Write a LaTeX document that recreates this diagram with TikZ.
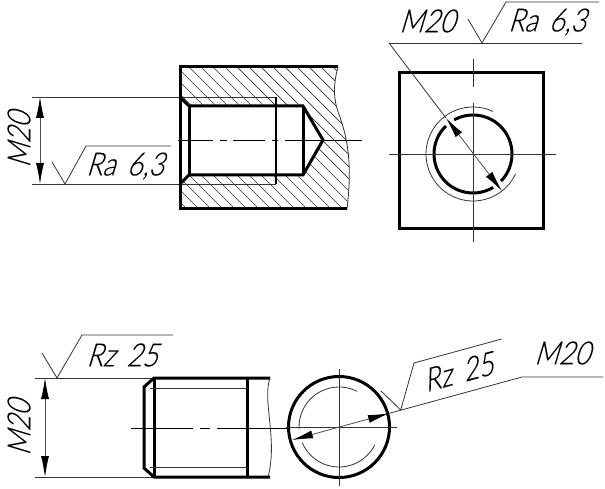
\documentclass[tikz,border=0pt]{standalone}
\usepackage{fontspec}
\setmainfont{Lato}[UprightFont=* Light,FakeSlant=0.3,FakeStretch=0.84,FakeBold=0.3,WordSpace=1.6]
\usetikzlibrary{arrows.meta}
\tikzset{
  thickline/.style={line width=3pt, line join=miter},
  midline/.style={line width=1.8pt},
  thinline/.style={line width=0.8pt, black!80},
  centerline/.style={line width=0.8pt},
  dimline/.style={line width=0.8pt, black!70, {Latex[length=21pt,width=8pt,color=black]}-{Latex[length=21pt,width=8pt,color=black]}},
  label/.style={font=\fontsize{32}{32}\selectfont, inner sep=0pt},
}
\begin{document}
\begin{tikzpicture}[x=1pt, y=-1pt]
	\useasboundingbox (0, 0) rectangle (605, 489);
	% threaded hole, section
	\begin{scope}
		\clip (180, 67) -- (338, 67) .. controls (333, 85) and (333, 100) .. (340, 117) .. controls (346, 135) and (353, 160) .. (347, 209) -- (180, 209) -- (180, 184) -- (189, 175) -- (303, 175) -- (323, 140) -- (303, 106) -- (189, 106) -- (180, 97) -- cycle;
		\foreach \hx in {-10, 2, ..., 500}
			\draw[thinline, line width=0.7pt] (\hx, 60) -- (\hx + 160, 220);
	\end{scope}
	\draw[thinline]    	(338, 67) .. controls (333, 85) and (333, 100) .. (340, 117) .. controls (346, 135) and (353, 160) .. (347, 209);
	\draw[thinline]    	(32, 97) -- (276, 97);
	\draw[thinline]    	(32, 184) -- (276, 184);
	\draw[midline]    	(276, 97) -- (276, 184);
	\draw[thickline]    	(338, 67) -- (180, 67) -- (180, 209) -- (347, 209);
	\draw[thickline]    	(180, 97) -- (189, 106) -- (303, 106) -- (323, 140) -- (303, 175) -- (189, 175) -- (180, 184);
	\draw[thickline]    	(189, 106) -- (189, 175);
	\draw[thickline]    	(303, 106) -- (303, 175);
	\draw[centerline, dash pattern=on 35pt off 7pt on 7pt off 6pt on 32pt off 7pt on 6pt off 7pt on 80pt] (178, 140) -- (362, 140);
	\draw[dimline]    	(40, 97) -- (40, 184);
	\node[label, rotate=90] (holesize) at (19, 140) {M20};
	\draw[thinline]    	(52, 162) -- (65, 184) -- (86, 146) -- (171, 146);
	\node[label] (holerough) at (125, 166) {Ra 6,3};
	% threaded hole, end view
	\coordinate (holecentre) at (473, 154);
	\draw[thickline]    	(399, 73) rectangle (543, 229);
	\draw[thickline]    	(holecentre) ++(44:39) arc[start angle=44, end angle=-119, radius=39];
	\draw[thickline]    	(holecentre) ++(-134:39) arc[start angle=-134, end angle=-301, radius=39];
	\draw[thinline]    	(holecentre) ++(-65:47) arc[start angle=-65, end angle=-335, radius=47];
	\draw[thinline]    	(389, 154) -- (556, 154);
	\draw[thinline]    	(473, 59) -- (473, 87);
	\draw[thinline]    	(473, 103) -- (473, 242);
	\draw[dimline]    	(446, 118) -- (502, 191);
	\draw[thinline]    	(389, 43) -- (446, 118);
	\draw[thinline]    	(389, 43) -- (582, 43);
	\draw[thinline]    	(468, 19) -- (482, 43) -- (506, 2) -- (599, 2);
	\node[label] (endsize) at (427, 21) {M20};
	\node[label] (endrough) at (547, 22) {Ra 6,3};
	% threaded shaft
	\draw[thinline]    	(35, 378) -- (154, 378);
	\draw[thinline]    	(35, 477) -- (154, 477);
	\draw[thickline]    	(270, 378) -- (154, 378) -- (144, 387) -- (144, 468) -- (154, 477) -- (270, 477);
	\draw[thickline]    	(154, 378) -- (154, 477);
	\draw[thickline]    	(247, 378) -- (247, 477);
	\draw[thinline]    	(150, 388) -- (247, 388);
	\draw[thinline]    	(150, 467) -- (247, 467);
	\draw[thinline]    	(270, 378) .. controls (262, 400) and (278, 440) .. (268, 477);
	\draw[centerline, dash pattern=on 62pt off 7pt on 10pt off 7pt on 80pt] (131, 428) -- (290, 428);
	\draw[dimline]    	(45, 378) -- (45, 477);
	\node[label, rotate=90] (shaftsize) at (19, 428) {M20};
	\draw[thinline]    	(42, 353) -- (57, 378) -- (82, 335) -- (173, 335);
	\node[label] (shaftrough) at (122, 355) {Rz 25};
	% threaded shaft, end view
	\coordinate (shaftcentre) at (339, 427);
	\draw[thickline]    	(shaftcentre) circle[radius=50.5];
	\draw[thinline]    	(shaftcentre) ++(-63:40) arc[start angle=-63, end angle=-183, radius=40];
	\draw[thinline]    	(shaftcentre) ++(-203:40) arc[start angle=-203, end angle=-333, radius=40];
	\draw[thinline]    	(286, 427) -- (397, 427);
	\draw[thinline]    	(339, 369) -- (339, 486);
	\draw[dimline]    	(292, 440) -- (389, 413.4);
	\draw[thinline]    	(389, 413.4) -- (522, 377) -- (603, 377);
	\draw[thinline]    	(381, 391) -- (400.7, 410) -- (414, 363) -- (501.7, 339);
	\node[label, rotate=15] (endshaftrough) at (458, 372) {Rz 25};
	\node[label] (endshaftsize) at (562, 353) {M20};
\end{tikzpicture}
\end{document}
